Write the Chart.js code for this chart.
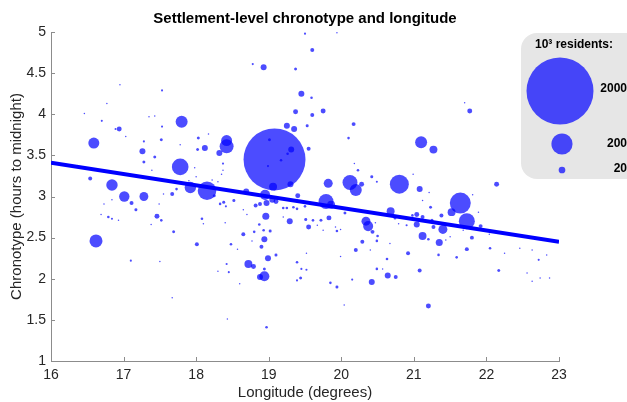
<!DOCTYPE html>
<html>
<head>
<meta charset="utf-8">
<script src="https://cdn.jsdelivr.net/npm/chart.js@4.4.1/dist/chart.umd.min.js"></script>
<style>
    html, body { margin: 0; padding: 0; background: #fff; }
    #wrap { width: 627px; height: 402px; }
</style>
</head>
<body>
<div id="wrap"><canvas id="chart" width="627" height="402"></canvas></div>
<script>
// --- Data ---
const lon = [
    19.50, 19.94, 19.60, 18.78, 18.93, 19.37, 16.95, 17.53, 19.45, 19.59,
    21.70, 16.77, 21.77, 19.37, 19.75, 16.46, 19.60, 17.35, 17.43, 16.70,
    17.80, 17.53, 19.25, 19.35, 19.53, 16.94, 16.89, 20.17, 20.10, 17.03,
    16.59, 17.28, 17.52, 17.26, 17.43, 17.28, 18.03, 18.17, 18.42, 18.42,
    18.12, 18.02, 18.32, 18.37, 17.78, 19.08, 19.31, 19.55, 16.54, 16.84,
    17.01, 17.28, 17.92, 18.15, 18.69, 18.95, 19.06, 19.30, 19.40, 19.82,
    20.12, 20.20, 20.28, 20.23, 20.18, 20.42, 20.49, 20.80, 21.10, 21.27,
    21.08, 21.64, 21.52, 21.73, 22.14, 20.68, 20.74, 19.79, 19.86, 20.05,
    20.34, 20.37, 20.43, 20.47, 18.52, 18.82, 18.88, 18.97, 19.05, 19.10,
    19.20, 19.25, 19.34, 19.39, 19.50, 17.11, 17.17, 17.49, 17.55, 17.67,
    17.73, 18.25, 18.33, 18.38, 18.41, 16.73, 16.84, 16.69, 16.79, 16.84,
    16.93, 17.46, 17.52, 17.38, 18.08, 18.40, 17.69, 16.62, 18.01, 18.48,
    18.57, 17.10, 17.50, 17.67, 18.43, 18.42, 18.30, 18.45, 18.60, 18.65,
    18.80, 18.87, 18.77, 18.72, 18.79, 18.96, 18.93, 19.02, 18.94, 18.90,
    18.99, 19.10, 18.94, 18.88, 18.94, 18.97, 19.29, 19.51, 19.55, 19.61,
    19.72, 19.67, 19.75, 19.83, 19.92, 19.94, 19.99, 19.39, 19.45, 19.52,
    19.44, 19.39, 19.52, 19.85, 19.94, 20.04, 20.15, 20.20, 20.29, 20.42,
    20.40, 20.49, 20.50, 20.63, 20.49, 20.57, 20.64, 20.75, 19.99, 20.67,
    20.92, 20.98, 21.04, 21.12, 21.04, 21.12, 21.20, 21.23, 21.25, 21.08,
    21.20, 21.34, 21.27, 21.35, 21.40, 21.38, 21.59, 21.80, 21.73, 21.92,
    22.05, 22.17, 22.04, 22.25, 22.46, 22.63, 22.72, 22.83, 22.56, 22.63,
    22.74, 22.87, 21.68, 19.01, 19.26, 19.17, 18.99, 20.99, 21.21, 21.12,
    20.79, 20.90, 21.44, 21.50, 21.89, 21.81, 19.20, 18.65, 18.70, 18.22,
    18.30, 17.90, 17.98, 18.00, 17.39, 18.37, 18.35, 18.10, 17.78
];
const chrono = [
    4.98, 4.99, 4.78, 4.61, 4.57, 4.55, 4.36, 4.29, 4.25, 4.20,
    4.14, 4.13, 4.04, 4.03, 4.04, 4.01, 3.99, 3.97, 3.98, 3.92,
    3.91, 3.85, 3.86, 3.82, 3.86, 3.82, 3.82, 3.88, 3.71, 3.73,
    3.65, 3.67, 3.69, 3.55, 3.48, 3.42, 3.71, 3.76, 3.68, 3.61,
    3.59, 3.57, 3.53, 3.40, 3.36, 3.45, 3.57, 3.58, 3.22, 3.14,
    3.00, 3.00, 3.11, 3.07, 3.06, 3.02, 3.12, 3.15, 3.01, 3.16,
    3.17, 3.08, 3.15, 3.32, 3.40, 3.24, 3.18, 3.15, 3.66, 3.57,
    3.09, 2.92, 2.81, 2.70, 3.15, 2.82, 2.74, 2.94, 2.90, 2.80,
    2.70, 2.64, 2.57, 2.68, 2.95, 2.89, 2.91, 2.92, 2.96, 2.94,
    2.86, 2.86, 2.87, 2.85, 2.88, 2.92, 2.84, 2.91, 3.03, 3.03,
    3.09, 3.01, 2.91, 2.93, 2.88, 2.91, 2.96, 2.78, 2.75, 2.73,
    2.71, 2.76, 2.71, 2.66, 2.73, 2.68, 2.57, 2.46, 2.42, 2.42,
    2.36, 2.22, 2.21, 1.77, 1.51, 2.18, 2.09, 2.08, 1.94, 2.54,
    2.57, 2.66, 2.46, 2.18, 2.15, 2.76, 2.59, 2.58, 2.48, 2.39,
    2.25, 2.29, 2.12, 2.02, 2.03, 1.41, 2.70, 2.72, 2.63, 2.71,
    2.71, 2.65, 2.59, 2.74, 2.63, 2.58, 2.60, 2.20, 2.12, 2.11,
    2.01, 1.98, 2.31, 1.95, 1.90, 1.68, 1.99, 2.35, 2.45, 1.96,
    2.35, 2.46, 2.52, 2.24, 2.12, 2.12, 2.04, 2.02, 2.27, 2.43,
    2.31, 2.77, 2.78, 2.75, 2.66, 2.52, 2.48, 2.87, 2.71, 2.10,
    1.67, 2.29, 2.63, 2.44, 2.60, 2.77, 2.26, 2.50, 2.36, 2.64,
    2.37, 2.10, 2.54, 2.31, 2.37, 2.35, 2.23, 2.29, 2.07, 1.97,
    2.01, 2.01, 2.59, 3.69, 3.52, 3.44, 3.37, 3.27, 3.05, 2.95,
    2.67, 2.65, 2.47, 2.51, 2.81, 3.02, 2.75, 2.84, 2.78, 3.20,
    3.18, 3.19, 3.35, 3.24, 3.32, 3.32, 3.27, 2.67, 3.63
];
// residents, in thousands
const residents = [
    2, 1, 7, 2, 16, 4, 1, 2, 16, 3,
    1, 1, 11, 11, 11, 1, 7, 1, 1, 2,
    64, 2, 16, 16, 4, 11, 2, 7, 3, 1,
    54, 2, 4, 16, 4, 4, 4, 1, 54, 87,
    16, 4, 16, 2, 123, 1710, 16, 7, 7, 58,
    48, 35, 58, 154, 16, 45, 28, 16, 11, 36,
    100, 64, 11, 3, 1, 4, 2, 160, 64, 28,
    16, 196, 28, 114, 11, 28, 4, 100, 28, 4,
    36, 45, 7, 1, 4, 7, 7, 16, 16, 11,
    3, 3, 3, 3, 3, 7, 4, 1, 1, 7,
    3, 4, 3, 4, 2, 1, 1, 1, 3, 2,
    1, 11, 3, 1, 3, 1, 4, 75, 7, 3,
    1, 2, 1, 1, 1, 2, 1, 2, 1, 7,
    3, 3, 1, 28, 11, 22, 3, 4, 16, 7,
    16, 4, 4, 16, 45, 3, 16, 4, 11, 3,
    4, 1, 1, 11, 1, 3, 1, 3, 2, 2,
    4, 2, 1, 3, 4, 1, 2, 7, 7, 16,
    1, 3, 3, 3, 3, 1, 16, 7, 1, 1,
    7, 3, 11, 7, 16, 28, 3, 4, 4, 7,
    11, 3, 7, 22, 36, 7, 3, 7, 7, 7,
    3, 4, 1, 1, 1, 1, 2, 1, 1, 1,
    1, 1, 1, 4, 3, 3, 2, 1, 1, 1,
    1, 2, 1, 1, 1, 1, 1, 1, 1, 1,
    1, 1, 1, 1, 1, 1, 1, 1, 1
];
const trendLon = [16, 23];
const trendChrono = [3.41, 2.45];
const legendSizes = [2000, 200, 20];
const xTicks = [16, 17, 18, 19, 20, 21, 22, 23];
const yTicks = [1, 1.5, 2, 2.5, 3, 3.5, 4, 4.5, 5];

// --- Styles ---
const FONT = "'Liberation Sans', Arial, sans-serif";
const BUBBLE_COLOR = 'rgba(0, 0, 255, 0.7)';
const AXIS_COLOR = '#8c8c8c';
const TEXT_COLOR = '#262626';

// bubble area proportional to population
const radiusFor = (p) => 0.749 * Math.sqrt(p);

// MATLAB-style ticks that point into the plot
const innerTicks = {
    id: 'innerTicks',
    afterDraw(chart) {
        const { ctx, chartArea, scales } = chart;
        ctx.save();
        ctx.strokeStyle = AXIS_COLOR;
        ctx.lineWidth = 1;
        ctx.beginPath();
        xTicks.forEach(v => {
            const px = Math.round(scales.x.getPixelForValue(v)) + 0.5;
            ctx.moveTo(px, chartArea.bottom);
            ctx.lineTo(px, chartArea.bottom - 4);
        });
        yTicks.forEach(v => {
            const py = Math.round(scales.y.getPixelForValue(v)) + 0.5;
            ctx.moveTo(chartArea.left, py);
            ctx.lineTo(chartArea.left + 4, py);
        });
        ctx.stroke();
        ctx.restore();
    }
};

// size legend in a grey rounded box, top right
const sizeLegend = {
    id: 'sizeLegend',
    afterDraw(chart) {
        const { ctx, chartArea } = chart;
        const left = chartArea.right - 38;
        const top = chartArea.top + 1;
        const w = 130, h = 146, rad = 16;
        ctx.save();
        ctx.fillStyle = '#e6e6e6';
        ctx.beginPath();
        ctx.moveTo(left + rad, top);
        ctx.lineTo(left + w - rad, top);
        ctx.arcTo(left + w, top, left + w, top + rad, rad);
        ctx.lineTo(left + w, top + h - rad);
        ctx.arcTo(left + w, top + h, left + w - rad, top + h, rad);
        ctx.lineTo(left + rad, top + h);
        ctx.arcTo(left, top + h, left, top + h - rad, rad);
        ctx.lineTo(left, top + rad);
        ctx.arcTo(left, top, left + rad, top, rad);
        ctx.closePath();
        ctx.fill();

        ctx.fillStyle = '#000';
        ctx.font = "bold 12px " + FONT;
        ctx.textAlign = 'center';
        ctx.textBaseline = 'middle';
        ctx.fillText('10³ residents:', left + 53, top + 12);

        const rows = [
            { cx: left + 39, cy: top + 58, ty: top + 56 },
            { cx: left + 41, cy: top + 111, ty: top + 111 },
            { cx: left + 41, cy: top + 137, ty: top + 136 }
        ];
        legendSizes.forEach((s, i) => {
            const row = rows[i];
            ctx.fillStyle = BUBBLE_COLOR;
            ctx.beginPath();
            ctx.arc(row.cx, row.cy, radiusFor(s), 0, Math.PI * 2);
            ctx.fill();
            ctx.fillStyle = '#000';
            ctx.textAlign = 'right';
            ctx.fillText(String(s), chart.width, row.ty);
        });
        ctx.restore();
    }
};

const points = lon.map((x, i) => ({ x: x, y: chrono[i], r: radiusFor(residents[i]) }));
const trend = trendLon.map((x, i) => ({ x: x, y: trendChrono[i] }));

new Chart(document.getElementById('chart'), {
    type: 'bubble',
    data: {
        datasets: [
            {
                type: 'line',
                data: trend,
                borderColor: '#0000ff',
                borderWidth: 4,
                pointRadius: 0,
                fill: false,
                order: 0
            },
            {
                data: points,
                backgroundColor: BUBBLE_COLOR,
                borderWidth: 0,
                order: 1
            }
        ]
    },
    options: {
        responsive: false,
        animation: false,
        layout: { padding: { left: 0, right: 68, top: 0, bottom: 0 } },
        plugins: {
            legend: { display: false },
            tooltip: { enabled: false },
            title: {
                display: true,
                fullSize: false,
                text: 'Settlement-level chronotype and longitude',
                color: '#000',
                font: { family: FONT, size: 15, weight: 'bold' },
                padding: { top: 10, bottom: 4 }
            }
        },
        scales: {
            x: {
                type: 'linear',
                min: 16,
                max: 23,
                afterBuildTicks: (s) => { s.ticks = xTicks.map(v => ({ value: v })); },
                afterFit: (s) => { s.height = 41; },
                grid: { display: false, drawTicks: false },
                border: { display: true, color: AXIS_COLOR, width: 1 },
                ticks: { color: TEXT_COLOR, padding: 6, font: { family: FONT, size: 14 }, callback: v => String(v) },
                title: {
                    display: true,
                    text: 'Longitude (degrees)',
                    color: TEXT_COLOR,
                    font: { family: FONT, size: 15 },
                    padding: { top: 0, bottom: 0 }
                }
            },
            y: {
                type: 'linear',
                min: 1,
                max: 5,
                afterBuildTicks: (s) => { s.ticks = yTicks.map(v => ({ value: v })); },
                afterFit: (s) => { s.width = 51; },
                grid: { display: false, drawTicks: false },
                border: { display: true, color: AXIS_COLOR, width: 1 },
                ticks: { color: TEXT_COLOR, padding: 5, font: { family: FONT, size: 14 }, callback: v => String(v) },
                title: {
                    display: true,
                    text: 'Chronotype (hours to midnight)',
                    color: TEXT_COLOR,
                    font: { family: FONT, size: 15 },
                    padding: { top: 8, bottom: 0 }
                }
            }
        }
    },
    plugins: [innerTicks, sizeLegend]
});
</script>
</body>
</html>
